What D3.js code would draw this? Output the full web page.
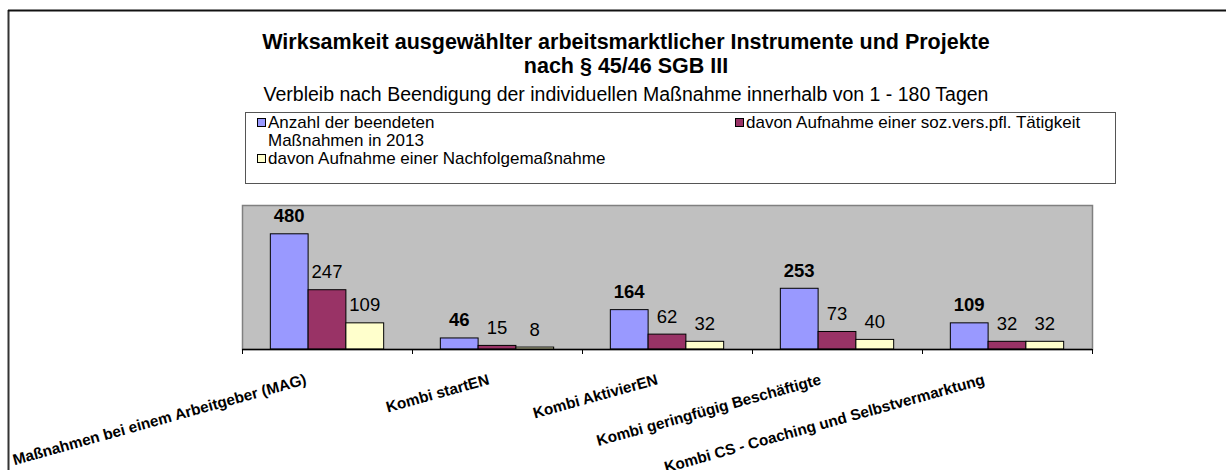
<!DOCTYPE html>
<html>
<head>
<meta charset="utf-8">
<script src="https://cdn.jsdelivr.net/npm/d3@7"></script>
<style>
    html, body { margin: 0; background: #fff; overflow: hidden; }
    svg { display: block; font-family: "Liberation Sans", Arial, sans-serif; }
</style>
</head>
<body>
<script>
//chart data
var categories = ["Maßnahmen bei einem Arbeitgeber (MAG)", "Kombi startEN", "Kombi AktivierEN",
    "Kombi geringfügig Beschäftigte", "Kombi CS - Coaching und Selbstvermarktung"];
var seriesNames = ["Anzahl der beendeten Maßnahmen in 2013",
    "davon Aufnahme einer soz.vers.pfl. Tätigkeit",
    "davon Aufnahme einer Nachfolgemaßnahme"];
var anzahl = [480, 46, 164, 253, 109];
var sozVers = [247, 15, 62, 73, 32];
var nachfolge = [109, 8, 32, 40, 32];
var yMax = 600;

var colors = ["#9999ff", "#993366", "#ffffcc"];

window.onload = drawChart();

function drawChart(){
    var width = 1226,
        height = 470;

    var svg = d3.select("body")
        .append("svg")
        .attr("width", width)
        .attr("height", height);

    //white page background
    svg.append("rect")
        .attr("width", width).attr("height", height)
        .attr("fill", "#fff");

    //outer chart frame (only top and left edges are visible)
    svg.append("line")
        .attr("x1", 8.5).attr("x2", 8.5)
        .attr("y1", 10).attr("y2", height)
        .attr("stroke", "#333")
        .attr("stroke-width", 2);
    svg.append("line")
        .attr("x1", 8).attr("x2", width)
        .attr("y1", 10.5).attr("y2", 10.5)
        .attr("stroke", "#111")
        .attr("stroke-width", 2);

    //titles
    svg.append("text")
        .attr("x", 626).attr("y", 49)
        .attr("text-anchor", "middle")
        .attr("font-weight", "bold")
        .attr("font-size", 21.5)
        .text("Wirksamkeit ausgewählter arbeitsmarktlicher Instrumente und Projekte");
    svg.append("text")
        .attr("x", 626).attr("y", 73)
        .attr("text-anchor", "middle")
        .attr("font-weight", "bold")
        .attr("font-size", 21.5)
        .text("nach § 45/46 SGB III");
    svg.append("text")
        .attr("x", 626).attr("y", 101)
        .attr("text-anchor", "middle")
        .attr("font-size", 19.5)
        .text("Verbleib nach Beendigung der individuellen Maßnahme innerhalb von 1 - 180 Tagen");

    //legend box
    var legend = svg.append("g");
    legend.append("rect")
        .attr("x", 245.5).attr("y", 112.5)
        .attr("width", 870).attr("height", 71)
        .attr("fill", "#fff")
        .attr("stroke", "#555");

    //legend entries: series index, anchor and text lines
    var legendItems = [
        {i: 0, x: 257, y: 128, lines: ["Anzahl der beendeten", "Maßnahmen in 2013"]},
        {i: 1, x: 735, y: 128, lines: [seriesNames[1]]},
        {i: 2, x: 257, y: 164, lines: [seriesNames[2]]}
    ];
    var items = legend.selectAll(".item")
        .data(legendItems)
        .enter()
        .append("g")
        .attr("class", "item");
    items.append("rect")
        .attr("x", function(d){ return d.x + 0.5; })
        .attr("y", function(d){ return d.y - 9.5; })
        .attr("width", 8).attr("height", 8)
        .attr("fill", function(d){ return colors[d.i]; })
        .attr("stroke", "#000");
    items.append("text")
        .attr("x", function(d){ return d.x + 11; })
        .attr("y", function(d){ return d.y; })
        .attr("font-size", 17)
        .selectAll("tspan")
        .data(function(d){ return d.lines; })
        .enter()
        .append("tspan")
        .attr("x", function(){ return +this.parentNode.getAttribute("x"); })
        .attr("dy", function(d, j){ return j === 0 ? 0 : 17.5; })
        .text(function(d){ return d; });

    //plot area
    var plotLeft = 242, plotRight = 1092, plotTop = 205, plotBottom = 349;

    var x0 = d3.scaleBand()
        .domain(categories)
        .range([plotLeft, plotRight])
        .paddingInner(1/3)
        .paddingOuter(1/6);
    var x1 = d3.scaleBand()
        .domain([0, 1, 2])
        .range([0, x0.bandwidth()]);
    var y = d3.scaleLinear()
        .domain([0, yMax])
        .range([plotBottom, plotTop]);

    svg.append("rect")
        .attr("x", plotLeft + 0.5).attr("y", plotTop + 0.5)
        .attr("width", plotRight - plotLeft).attr("height", plotBottom - plotTop)
        .attr("fill", "#c0c0c0")
        .attr("stroke", "#808080")
        .attr("stroke-width", 1.5);

    //rows of values per category
    var rows = categories.map(function(c, k){
        return {cat: c, values: [anzahl[k], sozVers[k], nachfolge[k]]};
    });

    var groups = svg.selectAll(".group")
        .data(rows)
        .enter()
        .append("g")
        .attr("class", "group")
        .attr("transform", function(d){ return "translate(" + x0(d.cat) + ",0)"; });

    groups.selectAll("rect")
        .data(function(d){ return d.values; })
        .enter()
        .append("rect")
        .attr("x", function(d, i){ return x1(i); })
        .attr("y", function(d){ return y(d); })
        .attr("width", x1.bandwidth())
        .attr("height", function(d){ return plotBottom - y(d); })
        .attr("fill", function(d, i){ return colors[i]; })
        .attr("stroke", "#000")
        .attr("stroke-width", 1);

    groups.selectAll(".val")
        .data(function(d){ return d.values; })
        .enter()
        .append("text")
        .attr("class", "val")
        .attr("x", function(d, i){ return x1(i) + x1.bandwidth() / 2; })
        .attr("y", function(d){ return y(d) - 11.5; })
        .attr("text-anchor", "middle")
        .attr("font-size", 18.5)
        .attr("font-weight", function(d, i){ return i === 0 ? "bold" : "normal"; })
        .text(function(d){ return d; });

    //category axis line and ticks on category boundaries
    var gap = (x0.step() - x0.bandwidth()) / 2;
    var bounds = categories.map(function(c){ return x0(c) - gap; }).concat([plotRight]);
    svg.append("line")
        .attr("x1", plotLeft).attr("x2", plotRight)
        .attr("y1", plotBottom + 0.5).attr("y2", plotBottom + 0.5)
        .attr("stroke", "#000")
        .attr("stroke-width", 1.5);
    svg.selectAll(".tick")
        .data(bounds)
        .enter()
        .append("line")
        .attr("class", "tick")
        .attr("x1", function(d){ return Math.round(d) + 0.5; })
        .attr("x2", function(d){ return Math.round(d) + 0.5; })
        .attr("y1", plotBottom).attr("y2", plotBottom + 5)
        .attr("stroke", "#000");

    //rotated category labels, longer labels are pushed a bit further left
    svg.selectAll(".catLabel")
        .data(categories)
        .enter()
        .append("text")
        .attr("class", "catLabel")
        .attr("text-anchor", "end")
        .attr("font-size", 15.3)
        .attr("font-weight", "bold")
        .text(function(d){ return d; })
        .attr("transform", function(d){
            var len = this.getComputedTextLength();
            var ex = x0(d) + x0.bandwidth() / 2 - 0.065 * len;
            return "translate(" + ex + "," + (plotBottom + 35) + ") rotate(-15.5)";
        });
}
</script>
</body>
</html>
